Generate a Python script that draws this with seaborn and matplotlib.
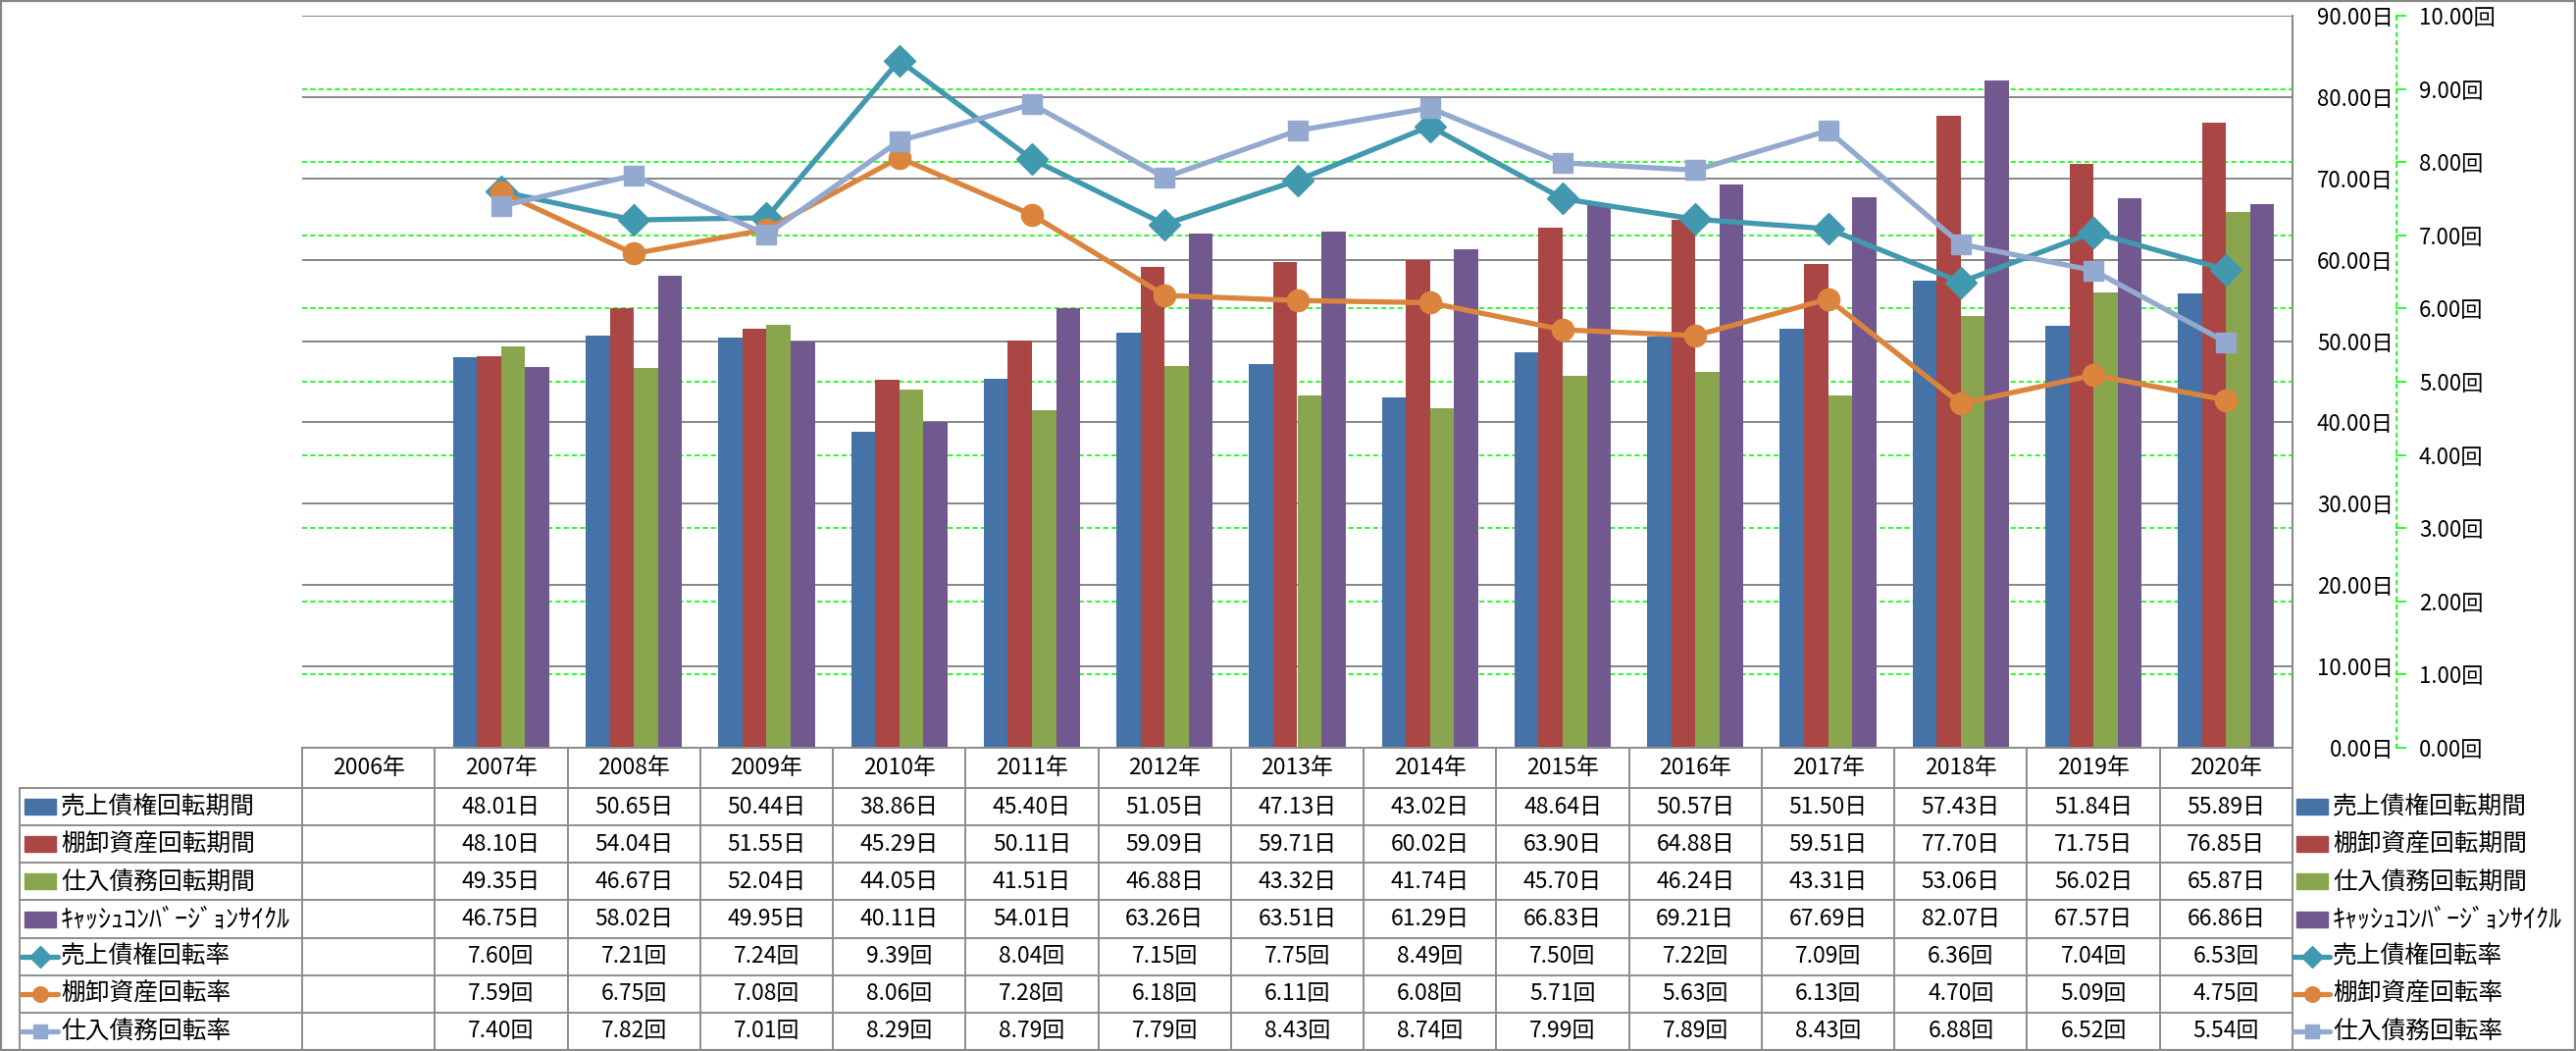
import numpy as np
import pandas as pd
import seaborn as sns
import matplotlib.pyplot as plt
from matplotlib.patches import Rectangle

plt.rcParams['font.family'] = ['Noto Sans CJK JP', 'DejaVu Sans']

years = ['2006年', '2007年', '2008年', '2009年', '2010年', '2011年', '2012年', '2013年',
         '2014年', '2015年', '2016年', '2017年', '2018年', '2019年', '2020年']

kikan_names = ['売上債権回転期間', '棚卸資産回転期間', '仕入債務回転期間', 'ｷｬｯｼｭｺﾝﾊﾞｰｼﾞｮﾝｻｲｸﾙ']
uri_kikan = [np.nan, 48.01, 50.65, 50.44, 38.86, 45.40, 51.05, 47.13, 43.02, 48.64, 50.57, 51.50, 57.43, 51.84, 55.89]
tana_kikan = [np.nan, 48.10, 54.04, 51.55, 45.29, 50.11, 59.09, 59.71, 60.02, 63.90, 64.88, 59.51, 77.70, 71.75, 76.85]
shiire_kikan = [np.nan, 49.35, 46.67, 52.04, 44.05, 41.51, 46.88, 43.32, 41.74, 45.70, 46.24, 43.31, 53.06, 56.02, 65.87]
ccc = [np.nan, 46.75, 58.02, 49.95, 40.11, 54.01, 63.26, 63.51, 61.29, 66.83, 69.21, 67.69, 82.07, 67.57, 66.86]

kaiten_names = ['売上債権回転率', '棚卸資産回転率', '仕入債務回転率']
uri_kaiten = [np.nan, 7.60, 7.21, 7.24, 9.39, 8.04, 7.15, 7.75, 8.49, 7.50, 7.22, 7.09, 6.36, 7.04, 6.53]
tana_kaiten = [np.nan, 7.59, 6.75, 7.08, 8.06, 7.28, 6.18, 6.11, 6.08, 5.71, 5.63, 6.13, 4.70, 5.09, 4.75]
shiire_kaiten = [np.nan, 7.40, 7.82, 7.01, 8.29, 8.79, 7.79, 8.43, 8.74, 7.99, 7.89, 8.43, 6.88, 6.52, 5.54]

bar_colors = ['#4572A7', '#AA4643', '#89A54E', '#71588F']
line_colors = ['#4198AF', '#DB843D', '#93A9CF']
line_markers = ['D', 'o', 's']
line_ms = [16, 16, 15]

kikan_data = [uri_kikan, tana_kikan, shiire_kikan, ccc]
kaiten_data = [uri_kaiten, tana_kaiten, shiire_kaiten]

df = pd.DataFrame({
    'year': years * 4,
    'series': [n for n in kikan_names for _ in years],
    'value': uri_kikan + tana_kikan + shiire_kikan + ccc,
})

# ---- layout in pixels ----
W, H = 2626, 1071
fig = plt.figure(figsize=(W / 100, H / 100), dpi=100)
PT = 0.72  # points per pixel

x0, x1 = 308, 2337
y_top, y_bot = 16, 762
ax = fig.add_axes([x0 / W, 1 - y_bot / H, (x1 - x0) / W, (y_bot - y_top) / H])

sns.barplot(data=df, x='year', y='value', hue='series', order=years, hue_order=kikan_names,
            palette=bar_colors, saturation=1, width=0.726, errorbar=None, legend=False,
            ax=ax, zorder=3)
ax.set_xlim(-0.5, len(years) - 0.5)
ax.set_ylim(0, 90)
ax.tick_params(axis='x', bottom=False, labelbottom=False)
ax.set_xlabel('')
ax.set_ylabel('')
ax.grid(axis='y', color='#868686', lw=1.4, zorder=0)
ax.set_axisbelow(True)
for s in ['left', 'top', 'bottom']:
    ax.spines[s].set_visible(False)
ax.spines['right'].set_color('#868686')
ax.spines['right'].set_linewidth(1.4)

# second axis (回)
ax2 = ax.twinx()
ax2.set_ylim(0, 10)
ax2.set_yticks(np.arange(0, 11, 1))
ax2.set_yticklabels([f'{v:.2f}回' for v in np.arange(0, 11, 1)])
for s in ['left', 'top', 'bottom', 'right']:
    ax2.spines[s].set_visible(False)
ax2.tick_params(axis='y', length=0, pad=(2466 - x1) * PT, labelsize=16)

# 日 axis labels, also on the right (after twinx, which moves them left)
ax.yaxis.tick_right()
ax.set_yticks(np.arange(0, 91, 10))
ax.set_yticklabels([f'{v:.2f}日' for v in np.arange(0, 91, 10)])
ax.tick_params(axis='y', length=0, pad=103 * PT, labelsize=16)
for lab in ax.get_yticklabels():
    lab.set_horizontalalignment('right')

# green dashed gridlines of the 回 axis, drawn behind the bars
ratio = ax.get_ylim()[1] / ax2.get_ylim()[1]
for t in ax2.get_yticks()[1:-1]:
    ax.axhline(t * ratio, color='#00FF00', lw=1.2, ls=(0, (3, 2)), zorder=1)

xpos = np.arange(len(years))
for vals, c, m, ms in zip(kaiten_data, line_colors, line_markers, line_ms):
    ax2.plot(xpos, vals, color=c, lw=3.8, marker=m, ms=ms, mfc=c, mec=c,
             solid_capstyle='round', solid_joinstyle='round', zorder=4)

# ---- overlay in pixel coordinates: 回 axis line, data table, border ----
tb = fig.add_axes([0, 0, 1, 1])
tb.set_xlim(0, W)
tb.set_ylim(H, 0)
tb.axis('off')
tb.patch.set_visible(False)

# dashed green 回 axis line with ticks
sx = 2443
tb.plot([sx, sx], [y_top, y_bot], color='#00FF00', lw=1.2, ls=(0, (3, 2)))
for t in ax2.get_yticks():
    ty = y_bot - (t - ax2.get_ylim()[0]) / (ax2.get_ylim()[1] - ax2.get_ylim()[0]) * (y_bot - y_top)
    tb.plot([sx, sx + 9], [ty, ty], color='#00FF00', lw=1.2)

grid_c = '#8C8C8C'
col_w = (x1 - x0) / len(years)
col_edges = [x0 + i * col_w for i in range(len(years) + 1)]
head_bot = 803
row_h = (1070 - head_bot) / 7
row_edges = [head_bot + i * row_h for i in range(8)]
lab_x0 = 20

tb.plot([x0, x1], [y_bot, y_bot], color=grid_c, lw=1.4)
for ye in row_edges:
    tb.plot([lab_x0, x1], [ye, ye], color=grid_c, lw=1.4)
tb.plot([lab_x0, lab_x0], [head_bot, row_edges[-1]], color=grid_c, lw=1.4)
for xe in col_edges:
    tb.plot([xe, xe], [y_bot, row_edges[-1]], color=grid_c, lw=1.4)

fs = 16.5
for i, y in enumerate(years):
    cx = x0 + (i + 0.5) * col_w
    tb.text(cx, (y_bot + head_bot) / 2, y, ha='center', va='center', fontsize=fs)

row_texts = []
for vals in kikan_data:
    row_texts.append(['' if np.isnan(v) else f'{v:.2f}日' for v in vals])
for vals in kaiten_data:
    row_texts.append(['' if np.isnan(v) else f'{v:.2f}回' for v in vals])

for r, texts in enumerate(row_texts):
    cy = (row_edges[r] + row_edges[r + 1]) / 2
    for i, t in enumerate(texts):
        cx = x0 + (i + 0.5) * col_w
        tb.text(cx, cy, t, ha='center', va='center', fontsize=fs)


def legend_key(x, cy, r):
    if r < 4:
        tb.add_patch(Rectangle((x + 3, cy - 8), 32, 16, color=bar_colors[r]))
    else:
        k = r - 4
        tb.plot([x, x + 37], [cy, cy], color=line_colors[k], lw=3.8, solid_capstyle='round')
        tb.plot([x + 18.5], [cy], marker=line_markers[k], ms=line_ms[k] * 0.7,
                color=line_colors[k])


all_names = kikan_names + kaiten_names
for r, name in enumerate(all_names):
    cy = (row_edges[r] + row_edges[r + 1]) / 2
    size = 18.8 if name.startswith('ｷ') else 17.8
    legend_key(22, cy, r)
    tb.text(62, cy, name, ha='left', va='center', fontsize=size)
    legend_key(2338, cy, r)
    tb.text(2378, cy, name, ha='left', va='center', fontsize=size)

# outer chart border
tb.add_patch(Rectangle((0.5, 0.5), W - 1.5, H - 1.5, fill=False, ec='#868686', lw=1.6))

fig.savefig('out.png', dpi=100)
